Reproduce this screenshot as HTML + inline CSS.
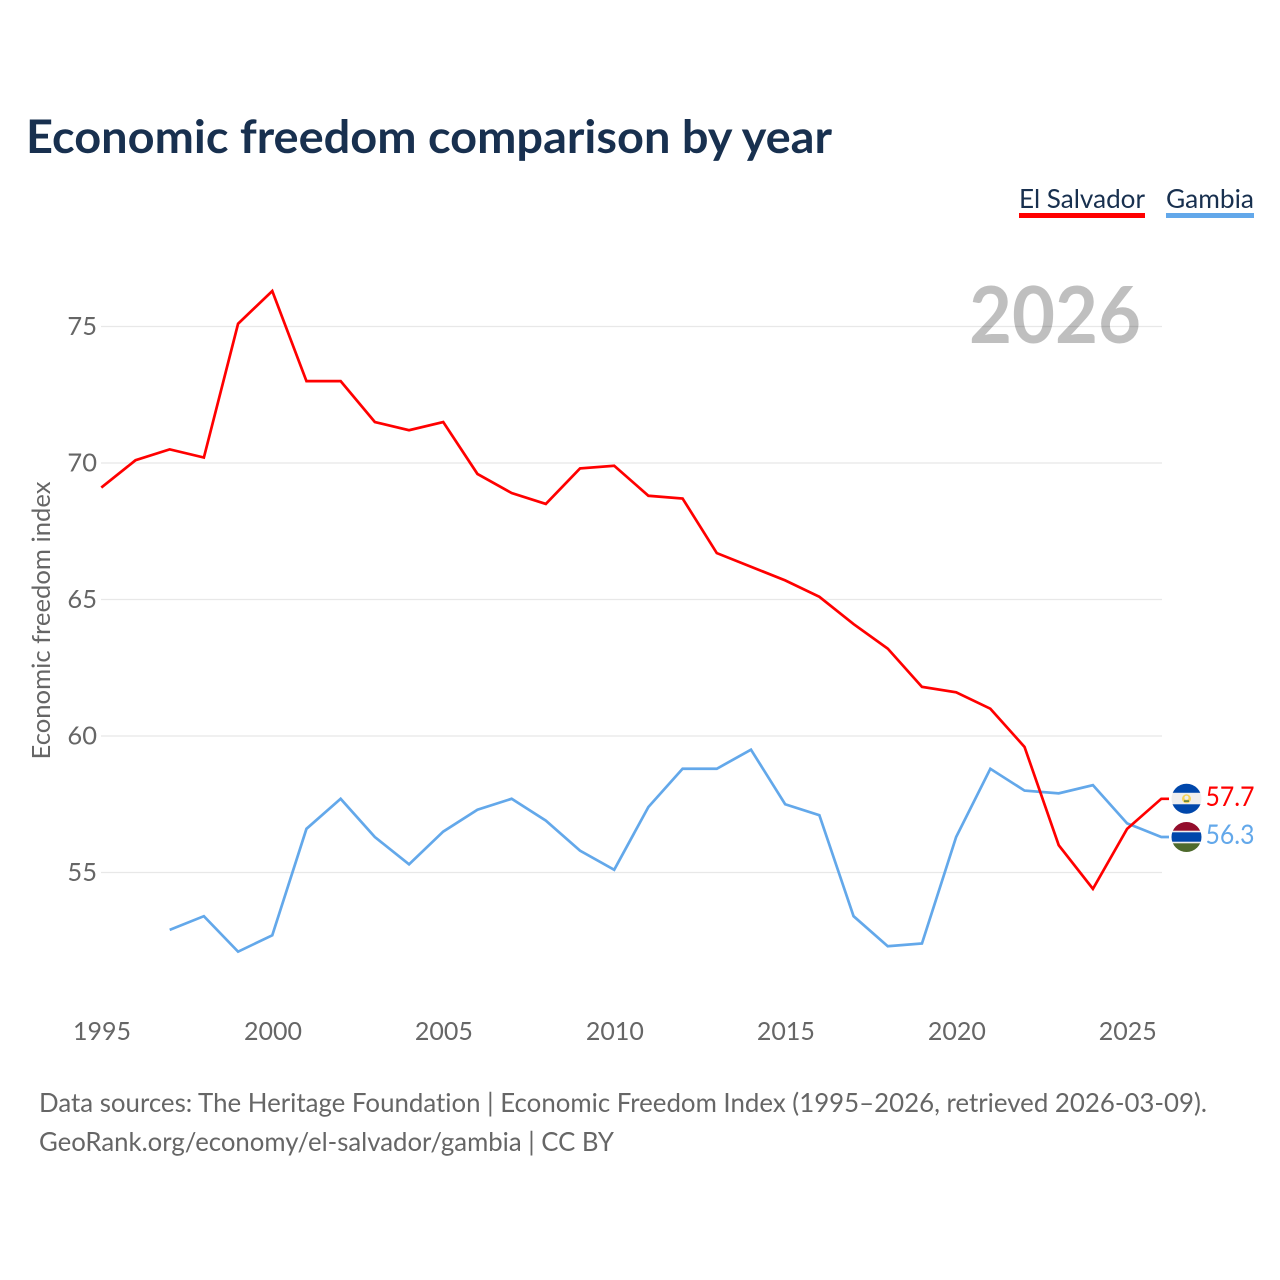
<!DOCTYPE html>
<html lang="en">
<head>
<meta charset="utf-8">
<title>Economic freedom comparison by year</title>
<style>
html,body{margin:0;padding:0;background:#fff;}
svg{display:block;}
text{font-family:"Lato","Carlito","Liberation Sans",sans-serif;font-variant-ligatures:none;}
</style>
</head>
<body>
<svg id="chart" xmlns="http://www.w3.org/2000/svg" width="1280" height="1280" viewBox="0 0 1280 1280">
  <rect width="1280" height="1280" fill="#fff"/>
  <text x="26" y="153" font-size="46" font-weight="700" fill="#18304f" textLength="806" lengthAdjust="spacingAndGlyphs">Economic freedom comparison by year</text>

  <g>
    <text x="1019" y="208" font-size="26" fill="#18304f" textLength="126" lengthAdjust="spacingAndGlyphs">El Salvador</text>
    <rect x="1019" y="213" width="126" height="5" fill="#ff0000"/>
  </g>
  <g>
    <text x="1166" y="208" font-size="26" fill="#18304f" textLength="88" lengthAdjust="spacingAndGlyphs">Gambia</text>
    <rect x="1166" y="213" width="88" height="5" fill="#63a8ea"/>
  </g>

  <g id="grid"></g>
  <text x="1141" y="343" text-anchor="end" font-size="79" font-weight="700" fill="#000" fill-opacity="0.25" textLength="172" lengthAdjust="spacingAndGlyphs">2026</text>
  <g id="yticks"></g>
  <g id="xticks"></g>
  <text transform="translate(50,620.5) rotate(-90)" text-anchor="middle" font-size="25" fill="#666" textLength="278" lengthAdjust="spacingAndGlyphs">Economic freedom index</text>
  <g id="series"></g>

  <defs>
    <clipPath id="clip-sv"><circle cx="0" cy="0" r="15"/></clipPath>
    <clipPath id="clip-gm"><circle cx="0" cy="0" r="15"/></clipPath>
  </defs>
  <g id="flag-sv" clip-path="url(#clip-sv)">
    <rect x="-16" y="-16" width="32" height="32" fill="#eeeeee"/>
    <rect x="-16" y="-16" width="32" height="10" fill="#0047ab"/>
    <rect x="-16" y="5.5" width="32" height="11" fill="#0047ab"/>
    <circle cx="0" cy="0" r="4.5" fill="#f5d45a"/>
    <circle cx="0" cy="-1" r="2" fill="#eeeeee"/>
    <rect x="-2.5" y="1.5" width="5" height="1.6" fill="#5f7f3c"/>
  </g>
  <g id="flag-gm" clip-path="url(#clip-gm)">
    <rect x="-16" y="-16" width="32" height="32" fill="#eeeeee"/>
    <rect x="-16" y="-16" width="32" height="9.7" fill="#930d2c"/>
    <rect x="-16" y="-4.7" width="32" height="9.4" fill="#0047ab"/>
    <rect x="-16" y="6.3" width="32" height="10" fill="#4e6a2c"/>
  </g>
  <text id="label-sv" x="1205.5" font-size="27" fill="#ff0000" textLength="49" lengthAdjust="spacingAndGlyphs"></text>
  <text id="label-gm" x="1205.5" font-size="27" fill="#63a8ea" textLength="49" lengthAdjust="spacingAndGlyphs"></text>

  <text x="39" y="1112" font-size="26" fill="#666" textLength="1168" lengthAdjust="spacingAndGlyphs">Data sources: The Heritage Foundation | Economic Freedom Index (1995–2026, retrieved 2026-03-09).</text>
  <text x="39" y="1151" font-size="26" fill="#666" textLength="575" lengthAdjust="spacingAndGlyphs">GeoRank.org/economy/el-salvador/gambia | CC BY</text>
</svg>
<script>
const years = [1995,1996,1997,1998,1999,2000,2001,2002,2003,2004,2005,2006,2007,2008,2009,2010,2011,2012,2013,2014,2015,2016,2017,2018,2019,2020,2021,2022,2023,2024,2025,2026];
const elSalvador = [69.1,70.1,70.5,70.2,75.1,76.3,73.0,73.0,71.5,71.2,71.5,69.6,68.9,68.5,69.8,69.9,68.8,68.7,66.7,66.2,65.7,65.1,64.1,63.2,61.8,61.6,61.0,59.6,56.0,54.4,56.6,57.7];
const gambia = [null,null,52.9,53.4,52.1,52.7,56.6,57.7,56.3,55.3,56.5,57.3,57.7,56.9,55.8,55.1,57.4,58.8,58.8,59.5,57.5,57.1,53.4,52.3,52.4,56.3,58.8,58.0,57.9,58.2,56.8,56.3];
const yTickValues = [55,60,65,70,75];
const xTickValues = [1995,2000,2005,2010,2015,2020,2025];

const NS = 'http://www.w3.org/2000/svg';
function xScale(year){ return 101.3 + (year - 1995) * (1161.3 - 101.3) / 31; }
function yScale(v){ return 872.5 - (v - 55) * (872.5 - 326.5) / 20; }
function make(tag, attrs, parent){
  const el = document.createElementNS(NS, tag);
  for (const k in attrs) el.setAttribute(k, attrs[k]);
  parent.appendChild(el);
  return el;
}
const grid = document.getElementById('grid');
const yticks = document.getElementById('yticks');
const xticks = document.getElementById('xticks');
const series = document.getElementById('series');

yTickValues.forEach(function(v){
  const line = make('line', {x1:101, x2:1162, y1:yScale(v), y2:yScale(v), stroke:'#e8e8e8', 'stroke-width':1.2}, grid);
  
  
  const t = make('text', {x:97, y:yScale(v)+8.5, 'text-anchor':'end', 'font-size':25.5, fill:'#666'}, yticks);
  
  
  t.textContent = v;
});
xTickValues.forEach(function(y){
  const t = make('text', {x:xScale(y)+0.7, y:1040, 'text-anchor':'middle', 'font-size':25, fill:'#666'}, xticks);
  
  
  t.textContent = y;
});

function drawSeries(values, color, name){
  const pts = [];
  values.forEach(function(v, i){
    if (v !== null) pts.push(xScale(years[i]).toFixed(2) + ',' + yScale(v).toFixed(2));
  });
  const last = values[values.length - 1];
  pts.push('1169,' + yScale(last).toFixed(2));
  const line = make('polyline', {points:pts.join(' '), fill:'none', stroke:color, 'stroke-width':2.7, 'stroke-linejoin':'miter'}, series);
  
  
}
drawSeries(gambia, '#63a8ea', 'line-gambia');
drawSeries(elSalvador, '#ff0000', 'line-el-salvador');

const lastSv = elSalvador[elSalvador.length - 1];
const lastGm = gambia[gambia.length - 1];
document.getElementById('flag-sv').setAttribute('transform', 'translate(1186.5,' + yScale(lastSv) + ')');
document.getElementById('flag-gm').setAttribute('transform', 'translate(1186.5,' + yScale(lastGm) + ')');
const lsv = document.getElementById('label-sv');
lsv.setAttribute('y', yScale(lastSv) + 7);
lsv.textContent = lastSv.toFixed(1);
const lgm = document.getElementById('label-gm');
lgm.setAttribute('y', yScale(lastGm) + 7);
lgm.textContent = lastGm.toFixed(1);
</script>
</body>
</html>
